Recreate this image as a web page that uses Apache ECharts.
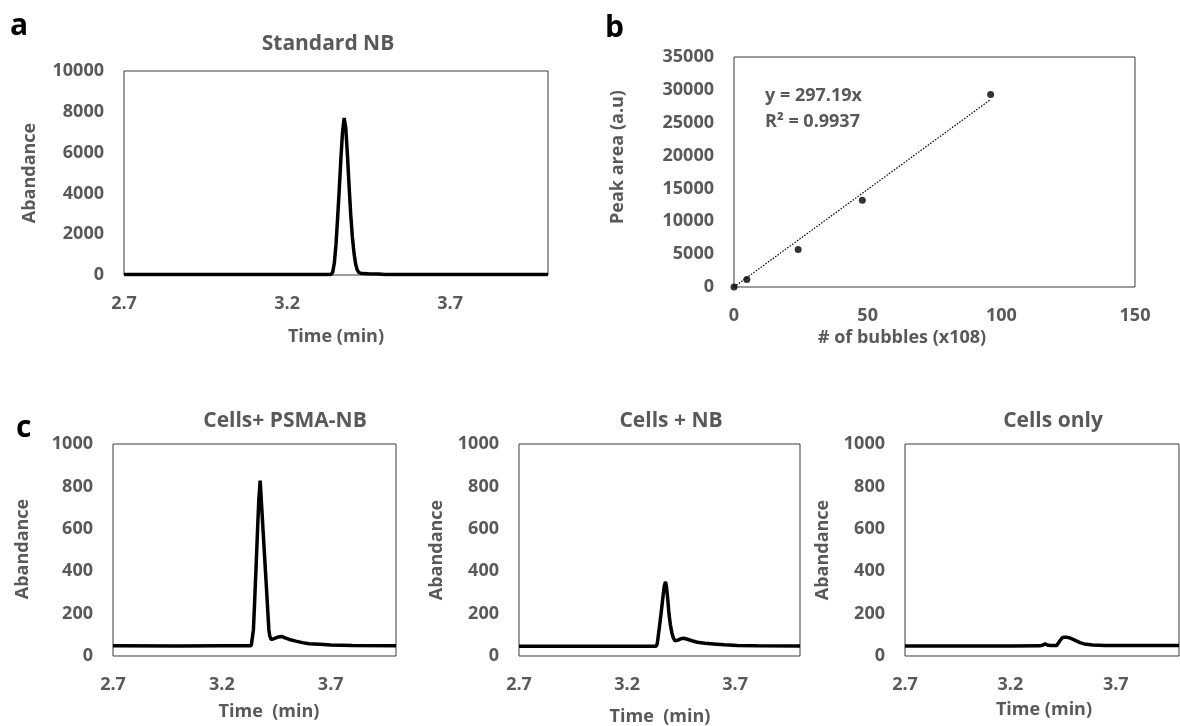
<!DOCTYPE html>
<html>
<head>
<meta charset="utf-8">
<script src="https://cdn.jsdelivr.net/npm/echarts@6/dist/echarts.min.js"></script>
<style>
html,body{margin:0;padding:0;background:#fff;}
#chart{width:1180px;height:726px;}
</style>
</head>
<body>
<div id="chart"></div>
<script>
// ---------- DATA ----------
// Panel a: Standard NB chromatogram
const timeA = [2.70, 3.00, 3.30, 3.335, 3.340, 3.345, 3.350, 3.355, 3.360, 3.365, 3.370, 3.375, 3.380, 3.385, 3.390, 3.395, 3.400, 3.405, 3.410, 3.415, 3.420, 3.430, 3.450, 3.480, 3.500, 3.700, 4.000];
const abundA = [20, 20, 20, 30, 150, 600, 1500, 2800, 4200, 5700, 7000, 7700, 7200, 5900, 4400, 3000, 1900, 1100, 550, 250, 120, 70, 60, 50, 25, 20, 20];

// Panel b: calibration
const bubbles = [0, 4.8, 24, 48, 96];
const peakArea = [0, 1150, 5700, 13200, 29300];
const slope = 297.19;
const r2Text = "R² = 0.9937";
const eqText = "y = 297.19x";

// Panel c1: Cells+ PSMA-NB
const timeC1 = [2.70, 3.00, 3.20, 3.335, 3.340, 3.345, 3.350, 3.357, 3.365, 3.370, 3.376, 3.380, 3.385, 3.390, 3.395, 3.400, 3.405, 3.410, 3.416, 3.420, 3.427, 3.440, 3.460, 3.475, 3.490, 3.510, 3.540, 3.570, 3.600, 3.650, 3.700, 3.800, 4.000];
const abundC1 = [48, 47, 48, 48, 52, 123, 240, 413, 620, 740, 827, 757, 670, 580, 495, 405, 320, 230, 123, 95, 78, 82, 90, 92, 86, 78, 70, 63, 58, 55, 52, 50, 48];

// Panel c2: Cells + NB
const timeC2 = [2.70, 3.00, 3.20, 3.335, 3.340, 3.345, 3.350, 3.357, 3.365, 3.372, 3.378, 3.383, 3.388, 3.394, 3.400, 3.407, 3.414, 3.422, 3.435, 3.450, 3.462, 3.475, 3.500, 3.525, 3.560, 3.600, 3.650, 3.710, 3.800, 4.000];
const abundC2 = [46, 46, 46, 46, 60, 100, 140, 198, 270, 330, 350, 320, 270, 198, 150, 110, 85, 71, 75, 82, 84, 80, 72, 65, 60, 57, 53, 50, 48, 47];

// Panel c3: Cells only
const timeC3 = [2.70, 3.00, 3.20, 3.340, 3.355, 3.365, 3.375, 3.390, 3.420, 3.428, 3.435, 3.445, 3.455, 3.470, 3.483, 3.500, 3.515, 3.530, 3.550, 3.590, 3.650, 3.800, 4.000];
const abundC3 = [47, 47, 47, 48, 52, 57, 52, 50, 50, 55, 72, 85, 89, 88, 85, 77, 70, 63, 57, 52, 50, 49, 49];

// Tick settings
const timeTicks = {min: 2.7, max: 4.0, interval: 0.5};
const abundTicksA = {min: 0, max: 10000, interval: 2000};
const abundTicksC = {min: 0, max: 1000, interval: 200};
const bubbleTicks = {min: 0, max: 150, interval: 50};
const areaTicks = {min: 0, max: 35000, interval: 5000};

// ---------- CHART ----------
const FONT = '"Open Sans"';
const GRAY = '#595959';

function zip(xs, ys){ return xs.map((x,i)=>[x, ys[i]]); }

const grids = [
  {left:124, top:71, width:424, height:204},   // a
  {left:734, top:57, width:401, height:230},   // b
  {left:113, top:444, width:283, height:212},  // c1
  {left:519, top:444, width:281, height:212},  // c2
  {left:905, top:444, width:274, height:212}   // c3
].map(g => Object.assign({show:true, borderColor:'#3a3a3a', borderWidth:1, backgroundColor:'#fff'}, g));

function xAx(idx, t, dec){
  return {
    type:'value', gridIndex:idx, min:t.min, max:t.max, interval:t.interval,
    axisLine:{show:false}, axisTick:{show:false}, splitLine:{show:false},
    axisLabel:{show:true, showMaxLabel: dec ? false : true, color:GRAY, fontFamily:FONT, fontWeight:'bold', fontSize:18, margin:20,
      formatter: v => dec ? v.toFixed(1) : String(v)}
  };
}
function yAx(idx, t){
  return {
    type:'value', gridIndex:idx, min:t.min, max:t.max, interval:t.interval,
    axisLine:{show:false}, axisTick:{show:false}, splitLine:{show:false},
    axisLabel:{color:GRAY, fontFamily:FONT, fontWeight:'bold', fontSize:18, margin:20, formatter: v => String(v)}
  };
}

const lineStyle = {color:'#000', width:3.5};
function chromSeries(idx, xs, ys){
  return {type:'line', xAxisIndex:idx, yAxisIndex:idx, data:zip(xs, ys), showSymbol:false,
    lineStyle:lineStyle, itemStyle:{color:'#000'}, animation:false, z:3};
}

const trendEndX = Math.max.apply(null, bubbles);

function txt(x, y, s, opts){
  return {type:'text', x:x, y:y, style:Object.assign({text:s, fill:GRAY, font:'bold 18px ' + FONT, textAlign:'center', textVerticalAlign:'middle'}, opts||{})};
}
function vtxt(x, y, s){
  return {type:'text', x:x, y:y, rotation:Math.PI/2, style:{text:s, fill:GRAY, font:'bold 18px ' + FONT, textAlign:'center', textVerticalAlign:'middle'}};
}

const option = {
  animation:false,
  backgroundColor:'#fff',
  grid: grids,
  xAxis: [xAx(0, timeTicks, true), xAx(1, bubbleTicks, false), xAx(2, timeTicks, true), xAx(3, timeTicks, true), xAx(4, timeTicks, true)],
  yAxis: [yAx(0, abundTicksA), yAx(1, areaTicks), yAx(2, abundTicksC), yAx(3, abundTicksC), yAx(4, abundTicksC)],
  series: [
    chromSeries(0, timeA, abundA),
    {type:'line', xAxisIndex:1, yAxisIndex:1, data:[[0,0],[trendEndX, slope*trendEndX]], showSymbol:false,
      lineStyle:{color:'#000', width:1.2, type:[1.5,1.5]}, animation:false, z:2},
    {type:'scatter', xAxisIndex:1, yAxisIndex:1, data:zip(bubbles, peakArea), symbol:'circle', symbolSize:7,
      itemStyle:{color:'#000'}, animation:false, z:4},
    chromSeries(2, timeC1, abundC1),
    chromSeries(3, timeC2, abundC2),
    chromSeries(4, timeC3, abundC3)
  ],
  graphic: [
    // panel letters
    {type:'text', x:10, y:41, style:{text:'a', fill:'#000', font:'bold 30px ' + FONT, textAlign:'left', textVerticalAlign:'bottom'}},
    {type:'text', x:605, y:43, style:{text:'b', fill:'#000', font:'bold 30px ' + FONT, textAlign:'left', textVerticalAlign:'bottom'}},
    {type:'text', x:16, y:443, style:{text:'c', fill:'#000', font:'bold 30px ' + FONT, textAlign:'left', textVerticalAlign:'bottom'}},
    // titles
    txt(328, 44, 'Standard NB', {font:'bold 21px ' + FONT}),
    txt(285, 421, 'Cells+ PSMA-NB', {font:'bold 21px ' + FONT}),
    txt(671, 421, 'Cells + NB', {font:'bold 21px ' + FONT}),
    txt(1053, 421, 'Cells only', {font:'bold 21px ' + FONT}),
    // axis names
    vtxt(30, 173, 'Abandance'),
    txt(336, 337, 'Time (min)'),
    vtxt(618, 157, 'Peak area (a.u)'),
    txt(902, 338, '# of bubbles (x108)'),
    vtxt(23, 549, 'Abandance'),
    txt(269, 712, 'Time  (min)'),
    vtxt(437, 550, 'Abandance'),
    txt(660, 717, 'Time  (min)'),
    vtxt(823, 550, 'Abandance'),
    txt(1044, 710, 'Time (min)'),
    // trendline equation
    txt(765, 96, eqText, {textAlign:'left'}),
    txt(765, 122, r2Text, {textAlign:'left'})
  ]
};

const chart = echarts.init(document.getElementById('chart'), null, {renderer:'canvas'});
chart.setOption(option);
</script>
</body>
</html>
